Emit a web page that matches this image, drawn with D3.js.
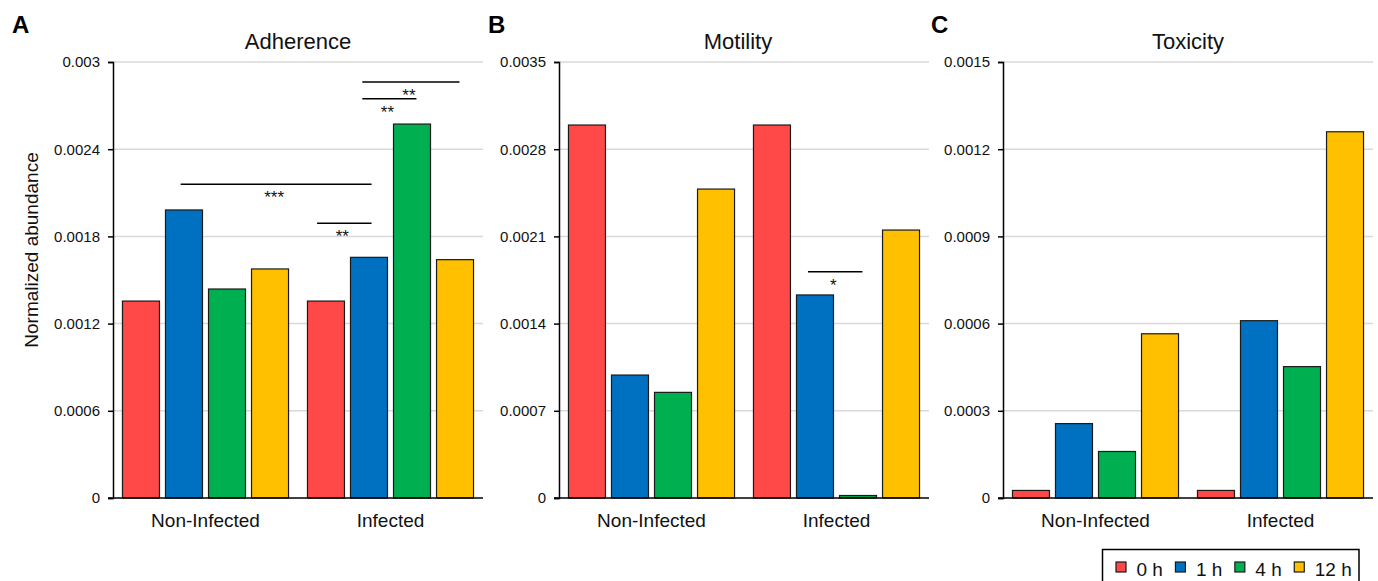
<!DOCTYPE html>
<html>
<head>
<meta charset="utf-8">
<script src="https://cdn.jsdelivr.net/npm/d3@7"></script>
<style>
  body { margin: 0; background: #fff; }
  svg { font-family: "Liberation Sans", Arial, sans-serif; }
</style>
</head>
<body>
<div id="chart"></div>
<script>
// data
const groups = ['Non-Infected', 'Infected'];
const seriesNames = ['0 h', '1 h', '4 h', '12 h'];
const seriesColors = ['#FF4848', '#0070C0', '#00B050', '#FFC000'];

const adherence = [
  [0.001355, 0.001982, 0.001438, 0.001576],
  [0.001355, 0.001656, 0.002573, 0.00164]
];
const motility = [
  [0.002994, 0.000987, 0.000848, 0.00248],
  [0.002994, 0.00163, 0.00002, 0.002151]
];
const toxicity = [
  [0.000026, 0.000256, 0.00016, 0.000565],
  [0.000026, 0.00061, 0.000452, 0.00126]
];

const adherenceTicks = ['0', '0.0006', '0.0012', '0.0018', '0.0024', '0.003'];
const motilityTicks = ['0', '0.0007', '0.0014', '0.0021', '0.0028', '0.0035'];
const toxicityTicks = ['0', '0.0003', '0.0006', '0.0009', '0.0012', '0.0015'];

// significance bars: [group, series, fraction of bar width]
const adherenceSig = [
  { from: [0, 1, 0.41], to: [1, 1, 0.57], level: 0.002158, label: '***' },
  { from: [1, 0, 0.26], to: [1, 1, 0.57], level: 0.00189, label: '**' },
  { from: [1, 1, 0.32], to: [1, 2, 0.62], level: 0.002747, label: '**' },
  { from: [1, 1, 0.32], to: [1, 3, 0.62], level: 0.002862, label: '**' }
];
const motilitySig = [
  { from: [1, 1, 0.31], to: [1, 2, 0.62], level: 0.001817, label: '*' }
];
const toxicitySig = [];

const panels = [
  { letter: 'A', title: 'Adherence', values: adherence, ticks: adherenceTicks, sig: adherenceSig, left: 113, letterX: 12 },
  { letter: 'B', title: 'Motility', values: motility, ticks: motilityTicks, sig: motilitySig, left: 559, letterX: 488 },
  { letter: 'C', title: 'Toxicity', values: toxicity, ticks: toxicityTicks, sig: toxicitySig, left: 1003, letterX: 931 }
];

const W = 1378, H = 581;
const plotTop = 62, plotBottom = 498, plotW = 370;

const svg = d3.select('#chart').append('svg')
  .attr('width', W).attr('height', H);

panels.forEach((p, pi) => {
  const tickVals = p.ticks.map(Number);
  const y = d3.scaleLinear()
    .domain([0, d3.max(tickVals)])
    .range([plotBottom, plotTop]);
  const xg = d3.scaleBand().domain(groups).range([p.left, p.left + plotW]).padding(0);
  const xs = d3.scaleBand().domain(seriesNames).range([0, xg.bandwidth()])
    .paddingInner(0.14).paddingOuter(0.22);
  const barX = (a) => xg(groups[a[0]]) + xs(seriesNames[a[1]]) + a[2] * xs.bandwidth();

  const g = svg.append('g');

  // gridlines
  g.append('g')
    .selectAll('line')
    .data(tickVals.filter(v => v > 0))
    .join('line')
    .attr('x1', p.left).attr('x2', p.left + plotW)
    .attr('y1', d => y(d)).attr('y2', d => y(d))
    .attr('stroke', '#d9d9d9').attr('stroke-width', 1.5);

  // bars
  groups.forEach((grp, gi) => {
    g.append('g')
      .selectAll('rect')
      .data(p.values[gi])
      .join('rect')
      .attr('x', (d, i) => xg(grp) + xs(seriesNames[i]))
      .attr('y', d => y(d))
      .attr('width', xs.bandwidth())
      .attr('height', d => plotBottom - y(d))
      .attr('fill', (d, i) => seriesColors[i])
      .attr('stroke', '#1a1a1a')
      .attr('stroke-width', 1.2);
  });

  // y axis
  const yAxis = g.append('g')
    .attr('transform', `translate(${p.left},0)`)
    .call(d3.axisLeft(y).tickValues(tickVals).tickFormat((d, i) => p.ticks[i]).tickSizeOuter(0).tickSize(5).tickPadding(8));
  yAxis.select('.domain').attr('stroke', '#000').attr('stroke-width', 1.5);
  yAxis.selectAll('.tick line').attr('stroke', '#000').attr('stroke-width', 1.5);
  yAxis.selectAll('.tick text')
    .attr('font-size', 15).attr('fill', '#111')
    .attr('font-family', '"Liberation Sans", Arial, sans-serif');

  // x axis
  const xAxis = g.append('g')
    .attr('transform', `translate(0,${plotBottom})`)
    .call(d3.axisBottom(xg).tickSize(0).tickPadding(16));
  xAxis.select('.domain').remove();
  xAxis.append('line')
    .attr('x1', p.left - 5).attr('x2', p.left + plotW)
    .attr('stroke', '#000').attr('stroke-width', 1.5);
  xAxis.selectAll('.tick text')
    .attr('font-size', 19).attr('fill', '#111')
    .attr('font-family', '"Liberation Sans", Arial, sans-serif');

  // significance annotations
  p.sig.forEach(s => {
    const x1 = barX(s.from), x2 = barX(s.to);
    g.append('line')
      .attr('x1', x1).attr('x2', x2)
      .attr('y1', y(s.level)).attr('y2', y(s.level))
      .attr('stroke', '#000').attr('stroke-width', 1.5);
    g.append('text')
      .attr('x', (x1 + x2) / 2 - 2)
      .attr('y', y(s.level) + 19)
      .attr('text-anchor', 'middle')
      .attr('font-size', 17)
      .attr('fill', '#111')
      .text(s.label);
  });

  // title and panel letter
  g.append('text')
    .attr('x', p.left + plotW / 2 - (pi === 1 ? 6 : 0))
    .attr('y', 49)
    .attr('text-anchor', 'middle')
    .attr('font-size', 22)
    .attr('fill', '#111')
    .text(p.title);
  g.append('text')
    .attr('x', p.letterX)
    .attr('y', 33)
    .attr('font-size', 24)
    .attr('font-weight', 'bold')
    .attr('fill', '#000')
    .text(p.letter);
});

// y axis label
svg.append('text')
  .attr('transform', 'translate(38,250) rotate(-90)')
  .attr('text-anchor', 'middle')
  .attr('font-size', 19)
  .attr('fill', '#111')
  .text('Normalized abundance');

// legend
const legend = svg.append('g');
legend.append('rect')
  .attr('x', 1102.5).attr('y', 549.5)
  .attr('width', 256.5).attr('height', 45)
  .attr('fill', '#fff').attr('stroke', '#000').attr('stroke-width', 1.5);
let lx = 1116;
seriesNames.forEach((name, i) => {
  legend.append('rect')
    .attr('x', lx).attr('y', 562)
    .attr('width', 10).attr('height', 10)
    .attr('fill', seriesColors[i])
    .attr('stroke', '#1a1a1a').attr('stroke-width', 1.2);
  const t = legend.append('text')
    .attr('x', lx + 20.5).attr('y', 576)
    .attr('font-size', 19)
    .attr('fill', '#111')
    .text(name);
  lx += 20.5 + t.node().getComputedTextLength() + 12.5;
});
</script>
</body>
</html>
